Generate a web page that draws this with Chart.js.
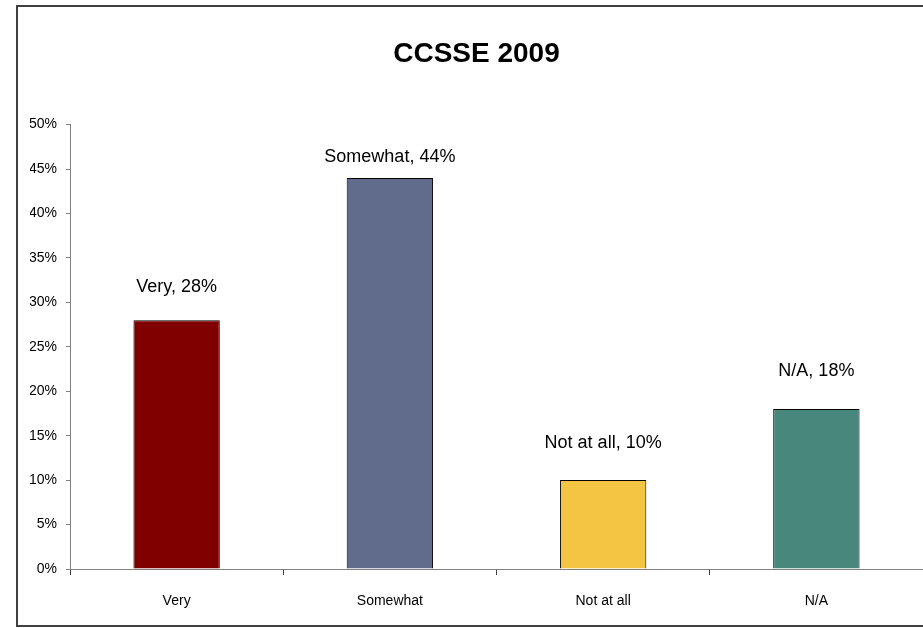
<!DOCTYPE html>
<html lang="en">
<head>
    <meta charset="UTF-8">
    <title>CCSSE 2009</title>
    <script src="https://cdn.jsdelivr.net/npm/chart.js"></script>
    <style>
        body {
            margin: 0;
            background-color: #ffffff;
        }
        #ccsseChart {
            display: block;
        }
    </style>
</head>
<body>
    <canvas id="ccsseChart" width="923" height="628"></canvas>

<script>
const categories = ['Very', 'Somewhat', 'Not at all', 'N/A'];
const percentValues = [28, 44, 10, 18];
const barColors = ['#800000', '#616b8c', '#f4c542', '#48877b'];
const yTickMax = 50;
const yTickStep = 5;

// gap in px between bar top and its label (labels were nudged by hand in the original)
const labelGaps = [33, 21, 37, 38];

const frameBorder = {
    id: 'frameBorder',
    afterDraw(chart) {
        const ctx = chart.ctx;
        ctx.save();
        ctx.strokeStyle = '#404040';
        ctx.lineWidth = 2;
        ctx.strokeRect(17, 6, 1000, 620);
        ctx.restore();
    }
};

const barLabels = {
    id: 'barLabels',
    afterDatasetsDraw(chart) {
        const ctx = chart.ctx;
        const meta = chart.getDatasetMeta(0);
        ctx.save();
        ctx.font = '18px "Liberation Sans", Arial, sans-serif';
        ctx.fillStyle = '#000000';
        ctx.textAlign = 'center';
        ctx.textBaseline = 'middle';
        meta.data.forEach((bar, i) => {
            const text = categories[i] + ', ' + percentValues[i] + '%';
            ctx.fillText(text, bar.x, bar.y - labelGaps[i]);
        });
        ctx.restore();
    }
};

new Chart(document.getElementById('ccsseChart'), {
    type: 'bar',
    data: {
        labels: categories,
        datasets: [{
            data: percentValues,
            backgroundColor: barColors,
            borderColor: '#000000',
            borderWidth: 1,
            barPercentage: 0.405,
            categoryPercentage: 1
        }]
    },
    options: {
        responsive: false,
        animation: false,
        layout: {
            padding: { left: 30, right: 0, top: 0, bottom: 0 }
        },
        plugins: {
            legend: { display: false },
            tooltip: { enabled: false },
            title: {
                display: true,
                text: 'CCSSE 2009',
                color: '#000000',
                font: { family: '"Liberation Sans", Arial, sans-serif', size: 28, weight: 'bold' },
                padding: { top: 37, bottom: 54 }
            }
        },
        scales: {
            y: {
                min: 0,
                max: yTickMax,
                ticks: {
                    stepSize: yTickStep,
                    color: '#000000',
                    padding: 9,
                    font: { family: '"Liberation Sans", Arial, sans-serif', size: 14 },
                    callback: v => v + '%'
                },
                grid: {
                    drawOnChartArea: false,
                    tickLength: 4,
                    color: '#808080'
                },
                border: { color: '#808080' },
                afterFit(scale) { scale.width = 40; }
            },
            x: {
                ticks: {
                    color: '#000000',
                    padding: 18,
                    font: { family: '"Liberation Sans", Arial, sans-serif', size: 14 }
                },
                grid: {
                    offset: true,
                    drawOnChartArea: false,
                    tickLength: 6,
                    color: '#404040'
                },
                border: { color: '#808080' },
                afterFit(scale) { scale.height = 59; }
            }
        }
    },
    plugins: [frameBorder, barLabels]
});
</script>
</body>
</html>
